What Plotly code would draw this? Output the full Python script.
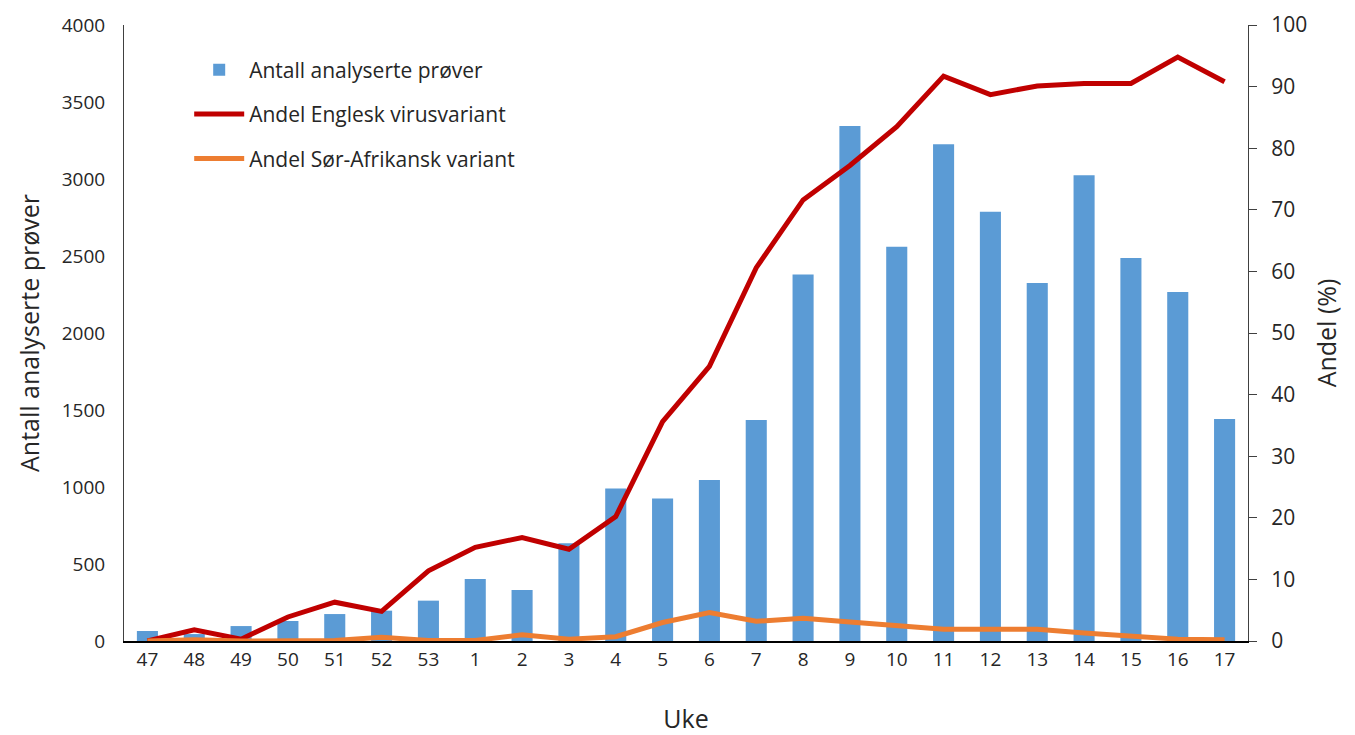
import plotly.graph_objects as go

weeks = ["47", "48", "49", "50", "51", "52", "53", "1", "2", "3", "4", "5",
         "6", "7", "8", "9", "10", "11", "12", "13", "14", "15", "16", "17"]
antall = [65, 45, 97, 130, 175, 197, 262, 402, 331, 634, 991, 926,
          1045, 1435, 2380, 3344, 2560, 3225, 2788, 2325, 3024, 2487, 2266, 1442]
andel_engelsk = [0.0, 1.8, 0.3, 3.9, 6.3, 4.8, 11.4, 15.2, 16.8, 14.9, 20.2, 35.6,
                 44.6, 60.6, 71.6, 77.2, 83.5, 91.7, 88.7, 90.1, 90.5, 90.5, 94.8, 90.8]
andel_sorafrikansk = [0.0, 0.2, 0.0, 0.1, 0.1, 0.6, 0.1, 0.1, 1.0, 0.3, 0.7, 3.0,
                      4.6, 3.2, 3.7, 3.1, 2.5, 1.9, 1.9, 1.9, 1.3, 0.9, 0.3, 0.2]

FONT = "Open Sans"
TXT = "#262626"

fig = go.Figure()
fig.add_trace(go.Bar(
    x=weeks, y=antall, name="Antall analyserte prøver",
    marker=dict(color="#5B9BD5", line=dict(width=0)),
    yaxis="y", legendgroup="a",
))
fig.add_trace(go.Scatter(
    x=weeks, y=andel_engelsk, name="Andel Englesk virusvariant",
    mode="lines", line=dict(color="#C00000", width=5),
    yaxis="y2", legendgroup="b",
))
fig.add_trace(go.Scatter(
    x=weeks, y=andel_sorafrikansk, name="Andel Sør-Afrikansk variant",
    mode="lines", line=dict(color="#ED7D31", width=5),
    yaxis="y2", legendgroup="c",
))

fig.update_layout(
    width=1355, height=735,
    margin=dict(l=124, r=107, t=25, b=94),
    paper_bgcolor="white", plot_bgcolor="white",
    font=dict(family=FONT, color=TXT, size=18),
    bargap=0.55,
    showlegend=True,
    legend=dict(
        x=0.058, y=0.96, xanchor="left", yanchor="top",
        font=dict(size=21, family=FONT, color=TXT),
        bgcolor="rgba(0,0,0,0)",
        tracegroupgap=14, traceorder="grouped",
        itemwidth=50,
    ),
    xaxis=dict(
        type="category", categoryorder="array", categoryarray=weeks,
        showline=True, linecolor="black", linewidth=1.5,
        ticks="", showgrid=False, zeroline=False, automargin=False,
        tickfont=dict(size=19, family=FONT, color=TXT),
        title=dict(text="Uke", font=dict(size=25, family=FONT, color=TXT), standoff=40),
    ),
    yaxis=dict(
        range=[0, 4000], tickmode="linear", tick0=0, dtick=500,
        showline=True, linecolor="#404040", linewidth=1,
        ticks="", showgrid=False, zeroline=False, automargin=False,
        tickfont=dict(size=19, family=FONT, color=TXT),
        ticklabelstandoff=14,
        title=dict(text="Antall analyserte prøver", font=dict(size=25, family=FONT, color=TXT), standoff=14),
    ),
    yaxis2=dict(
        range=[0, 100], tickmode="linear", tick0=0, dtick=10,
        overlaying="y", side="right",
        showline=True, linecolor="#404040", linewidth=1,
        ticks="outside", ticklen=8, tickcolor="#404040", tickwidth=1,
        showgrid=False, zeroline=False, automargin=False,
        tickfont=dict(size=21, family=FONT, color=TXT),
        ticklabelstandoff=10,
        title=dict(text="Andel (%)", font=dict(size=25, family=FONT, color=TXT), standoff=12),
    ),
)

fig.write_html("out.html")
